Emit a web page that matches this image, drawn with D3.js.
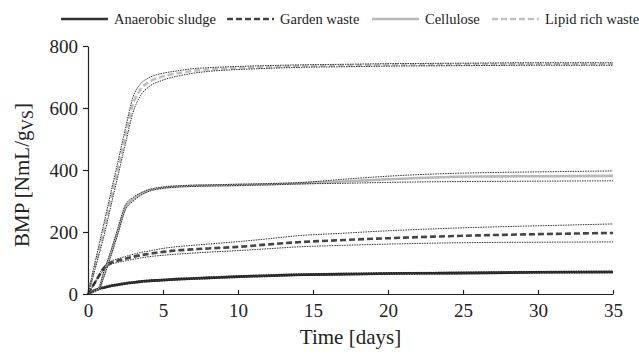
<!DOCTYPE html>
<html>
<head>
<meta charset="utf-8">
<script src="https://cdn.jsdelivr.net/npm/d3@7"></script>
<style>
  body { margin: 0; background: #fff; }
  text { font-family: "Times New Roman", "Liberation Serif", Times, serif; fill: #222; }
</style>
</head>
<body>
<svg id="chart" width="639" height="354"></svg>
<script>
// sample days (same for all series)
const days = [0, 0.25, 0.5, 0.75, 1, 1.5, 2, 2.5, 3, 3.5, 4, 5, 6, 7, 8, 10, 12, 14, 17, 20, 23, 26, 30, 35];

// BMP [NmL/gVS]
const sludge   = [0, 7, 13, 17, 20, 26, 30, 34, 37, 40, 42, 45, 48, 50, 52, 56, 59, 62, 64, 66, 67, 68, 70, 71];
const sludgeHi = [0, 8, 15, 19, 23, 29, 33, 37, 40, 43, 45, 48, 51, 53, 55, 59, 62, 65, 67, 69, 70, 71, 73, 74];
const sludgeLo = [0, 6, 11, 15, 18, 23, 27, 31, 34, 37, 39, 42, 45, 47, 49, 53, 56, 59, 61, 63, 64, 65, 67, 68];

const garden   = [0, 20, 40, 60, 80, 100, 108, 114, 120, 125, 129, 136, 141, 144, 147, 152, 160, 167, 174, 180, 185, 189, 193, 197];
const gardenHi = [0, 22, 43, 64, 85, 105, 114, 121, 128, 134, 138, 147, 153, 157, 161, 169, 178, 188, 196, 204, 210, 215, 220, 226];
const gardenLo = [0, 18, 37, 56, 75, 95, 102, 107, 112, 116, 120, 125, 129, 132, 135, 140, 146, 152, 157, 161, 164, 166, 167, 168];

const cellulose   = [0, 5, 11, 19, 55, 127, 204, 280, 305, 322, 333, 343, 347, 349, 350, 352, 354, 357, 363, 370, 376, 379, 380, 381];
const celluloseHi = [0, 6, 13, 23, 64, 136, 213, 288, 311, 326, 336, 345, 349, 351, 352, 354, 356, 359, 370, 380, 387, 391, 394, 397];
const celluloseLo = [0, 4, 9, 15, 46, 118, 195, 272, 299, 318, 330, 341, 345, 347, 348, 350, 352, 355, 357, 360, 362, 363, 364, 365];

const lipid   = [0, 48, 97, 146, 195, 300, 405, 510, 612, 660, 682, 702, 712, 720, 724, 729, 732, 735, 737, 739, 740, 741, 742, 742];
const lipidHi = [0, 55, 108, 162, 215, 322, 428, 535, 635, 678, 696, 712, 720, 727, 730, 734, 737, 739, 741, 743, 744, 745, 746, 746];
const lipidLo = [0, 40, 86, 130, 175, 278, 382, 485, 585, 640, 666, 690, 703, 712, 718, 724, 728, 731, 733, 735, 736, 737, 738, 738];

const xTicks = [0, 5, 10, 15, 20, 25, 30, 35];
const yTicks = [0, 200, 400, 600, 800];

const seriesNames = ["Anaerobic sludge", "Garden waste", "Cellulose", "Lipid rich waste"];

const svg = d3.select("#chart");

let x = d3.scaleLinear().domain([0, 35]).range([88, 613]);
let y = d3.scaleLinear().domain([0, 800]).range([294, 46]);

// styles per series
const styles = [
  {color: "#333", dash: null},
  {color: "#444", dash: "6,3"},
  {color: "#b8b8b8", dash: null},
  {color: "#bfbfbf", dash: "6,3"}
];
const means = [sludge, garden, cellulose, lipid];
const bounds = [[sludgeHi, sludgeLo], [gardenHi, gardenLo], [celluloseHi, celluloseLo], [lipidHi, lipidLo]];

let line = d3.line()
  .x(function(d) { return x(d[0]); })
  .y(function(d) { return y(d[1]); })
  .curve(d3.curveMonotoneX);

function pts(vals) {
  return days.map(function(d, i) { return [d, vals[i]]; });
}

// mean curves first, then thin dotted bounds over them
means.forEach(function(vals, i) {
  svg.append("path")
    .attr("d", line(pts(vals)))
    .attr("fill", "none")
    .attr("stroke", styles[i].color)
    .attr("stroke-width", 2.6)
    .attr("stroke-dasharray", styles[i].dash);
});

bounds.forEach(function(b) {
  b.forEach(function(vals) {
    svg.append("path")
      .attr("d", line(pts(vals)))
      .attr("fill", "none")
      .attr("stroke", "#1a1a1a")
      .attr("stroke-width", 0.9)
      .attr("stroke-dasharray", "1.5,1");
  });
});

// axes
let xAxis = svg.append("g")
  .attr("transform", "translate(0," + y(0) + ")")
  .call(d3.axisBottom(x).tickValues(xTicks).tickSizeInner(-4).tickSizeOuter(0).tickPadding(9));
xAxis.selectAll("text").attr("font-size", 19).attr("dy", "0.72em");

let yAxis = svg.append("g")
  .attr("transform", "translate(" + x(0) + ",0)")
  .call(d3.axisLeft(y).tickValues(yTicks).tickSize(5).tickSizeOuter(0).tickPadding(5));
yAxis.selectAll("text").attr("font-size", 19);

svg.selectAll("g").attr("font-family", null);
svg.selectAll(".domain, .tick line").attr("stroke", "#222").attr("stroke-width", 1.2);
svg.selectAll(".tick text").attr("fill", "#222");

// axis titles
svg.append("text")
  .attr("x", (x(0) + x(35)) / 2)
  .attr("y", 344)
  .attr("text-anchor", "middle")
  .attr("font-size", 21)
  .text("Time [days]");

let yl = svg.append("text")
  .attr("transform", "translate(29," + (y(400) + 5) + ") rotate(-90)")
  .attr("text-anchor", "middle")
  .attr("font-size", 21);
yl.append("tspan").text("BMP [NmL/g");
yl.append("tspan").attr("font-size", 16).attr("baseline-shift", "-25%").text("VS");
yl.append("tspan").text("]");

// legend
const legendX = [61, 227, 372, 492];
let legend = svg.append("g");
seriesNames.forEach(function(name, i) {
  let g = legend.append("g").attr("transform", "translate(" + legendX[i] + ",19)");
  g.append("line")
    .attr("x1", 0).attr("x2", 47).attr("y1", 0).attr("y2", 0)
    .attr("stroke", styles[i].color)
    .attr("stroke-width", 2.6)
    .attr("stroke-dasharray", styles[i].dash);
  g.append("text")
    .attr("x", 53).attr("y", 5)
    .attr("font-size", 14.5)
    .text(name);
});
</script>
</body>
</html>
